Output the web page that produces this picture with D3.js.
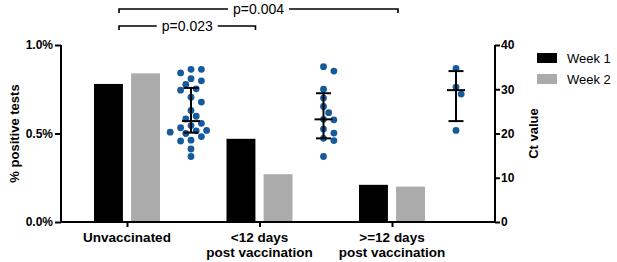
<!DOCTYPE html>
<html>
<head>
<meta charset="utf-8">
<script src="https://cdn.jsdelivr.net/npm/d3@7"></script>
<style>
  body { margin: 0; background: #fff; }
  svg { display: block; font-family: "Liberation Sans", Arial, sans-serif; }
</style>
</head>
<body>
<svg id="chart"></svg>
<script>
// categories and labels
let categories = ["Unvaccinated", "<12 days", ">=12 days"];
let catLines = [["Unvaccinated"], ["<12 days", "post vaccination"], [">=12 days", "post vaccination"]];
let weeks = ["Week 1", "Week 2"];

// % positive tests per week
let week1 = [0.78, 0.47, 0.21];
let week2 = [0.84, 0.27, 0.20];

// Ct values of positive tests
let ctUnvacc = [34.5, 33.7, 34.5, 31.9, 32.4, 31.1, 30.1, 29.8, 28.2, 27.1, 25.2, 23.9, 23.3,
                22.3, 21.3, 21.8, 20.6, 20.0, 20.7, 20.3, 18.5, 18.3, 19.3, 16.5, 14.8];
let ctEarly = [35.1, 34.1, 30.0, 28.0, 26.1, 24.7, 23.2, 23.1, 21.0, 20.1, 18.9, 18.4, 14.8];
let ctLate = [34.7, 30.5, 28.9, 20.7];
let ctMedian = [22.8, 23.2, 29.8];
let ctQ1 = [20.2, 18.9, 22.8];
let ctQ3 = [30.3, 29.1, 34.1];

// p values
let pairs = [["Unvaccinated", ">=12 days"], ["Unvaccinated", "<12 days"]];
let pLabels = ["p=0.004", "p=0.023"];

let margin = {top: 45, right: 122, bottom: 40, left: 61},
    width = 617 - margin.left - margin.right,
    height = 262 - margin.top - margin.bottom;

let svg = d3.select("#chart")
    .attr("width", 617)
    .attr("height", 262)
    .append("g")
    .attr("transform", "translate(" + margin.left + "," + margin.top + ")");

// scales
let x = d3.scalePoint().domain(categories).range([66, 331]);
let xSub = d3.scaleBand().domain(weeks).range([-33, 33]).paddingInner(0.22);
let y = d3.scaleLinear().domain([0, 1.0]).range([height, 0]);
let yCt = d3.scaleLinear().domain([0, 40]).range([height, 0]);
let color = d3.scaleOrdinal().domain(weeks).range(["#000000", "#ababab"]);
let dotOffset = 64;
let dotColor = "#175a9c";

// bars
let barData = [];
categories.forEach((c, i) => {
    barData.push({cat: c, week: "Week 1", value: week1[i]});
    barData.push({cat: c, week: "Week 2", value: week2[i]});
});
svg.selectAll(".bar")
    .data(barData)
    .enter().append("rect")
    .attr("class", "bar")
    .attr("x", d => x(d.cat) + xSub(d.week))
    .attr("width", xSub.bandwidth())
    .attr("y", d => y(d.value))
    .attr("height", d => height - y(d.value))
    .attr("fill", d => color(d.week));

// simple beeswarm for the dots
function swarm(values, r, step) {
    let placed = [];
    let sorted = values.slice().sort((a, b) => b - a);
    sorted.forEach(v => {
        let py = yCt(v);
        let offs = [0];
        for (let k = 1; k < 8; k++) { offs.push(k * step, -k * step); }
        for (let o of offs) {
            let ok = placed.every(p => Math.hypot(p.dx - o, p.py - py) >= 2 * r + 0.4);
            if (ok) { placed.push({dx: o, py: py, v: v}); break; }
        }
    });
    return placed;
}

let ctGroups = [ctUnvacc, ctEarly, ctLate];
ctGroups.forEach((vals, i) => {
    let cx = x(categories[i]) + dotOffset;
    let pts = swarm(vals, 3.4, 5.2);
    svg.selectAll(".dot" + i)
        .data(pts)
        .enter().append("circle")
        .attr("cx", d => cx + d.dx)
        .attr("cy", d => d.py)
        .attr("r", 3.4)
        .attr("fill", dotColor);

    // median + IQR
    let g = svg.append("g").attr("stroke", "#000").attr("stroke-width", 2);
    g.append("line").attr("x1", cx).attr("x2", cx)
        .attr("y1", yCt(ctQ3[i])).attr("y2", yCt(ctQ1[i]));
    [ctQ3[i], ctQ1[i]].forEach(v => {
        g.append("line").attr("x1", cx - 7.5).attr("x2", cx + 7.5)
            .attr("y1", yCt(v)).attr("y2", yCt(v));
    });
    g.append("line").attr("x1", cx - 9).attr("x2", cx + 9)
        .attr("y1", yCt(ctMedian[i])).attr("y2", yCt(ctMedian[i]));
});

// left axis
let yAxis = svg.append("g")
    .call(d3.axisLeft(y).tickValues([0, 0.5, 1.0]).tickSize(6).tickPadding(2)
        .tickFormat(d => d.toFixed(1) + "%"));
// right axis
let yAxisR = svg.append("g")
    .attr("transform", "translate(" + width + ",0)")
    .call(d3.axisRight(yCt).tickValues([0, 10, 20, 30, 40]).tickSize(5).tickPadding(1));
// bottom axis
let xAxis = svg.append("g")
    .attr("transform", "translate(0," + height + ")")
    .call(d3.axisBottom(x).tickSize(5).tickFormat(""));
xAxis.select(".domain").remove();
svg.append("line")
    .attr("x1", 0).attr("x2", width)
    .attr("y1", height).attr("y2", height)
    .attr("stroke", "#000").attr("stroke-width", 2);

[yAxis, yAxisR, xAxis].forEach(a => {
    a.selectAll("path, line").attr("stroke", "#000").attr("stroke-width", 2);
    a.selectAll("text")
        .style("font-family", "Liberation Sans, Arial, sans-serif")
        .style("font-weight", "bold")
        .style("font-size", "12px")
        .attr("fill", "#000");
});
yAxis.select(".domain").attr("d", "M0," + height + "V0");
yAxisR.select(".domain").attr("d", "M0," + height + "V0");

// category labels
categories.forEach((c, i) => {
    let t = svg.append("text")
        .attr("x", x(c))
        .attr("y", height + 20)
        .style("text-anchor", "middle")
        .style("font-weight", "bold")
        .style("font-size", "13.5px");
    catLines[i].forEach((line, j) => {
        t.append("tspan").attr("x", x(c)).attr("dy", j === 0 ? 0 : 15).text(line);
    });
});

// axis titles
svg.append("text")
    .attr("transform", "translate(" + (-42) + "," + (height / 2) + ") rotate(-90)")
    .style("text-anchor", "middle")
    .style("font-weight", "bold")
    .style("font-size", "13px")
    .text("% positive tests");

svg.append("text")
    .attr("transform", "translate(" + (width + 43) + "," + (height / 2) + ") rotate(-90)")
    .style("text-anchor", "middle")
    .style("font-weight", "bold")
    .style("font-size", "13px")
    .text("Ct value");

// legend
let legend = svg.append("g").attr("transform", "translate(" + (width + 42) + ",8)");
weeks.forEach((w, i) => {
    legend.append("rect")
        .attr("x", 0).attr("y", i * 21)
        .attr("width", 20).attr("height", 10)
        .attr("fill", color(w));
    legend.append("text")
        .attr("x", 30).attr("y", i * 21 + 9.5)
        .style("font-size", "13px")
        .text(w);
});

// significance brackets
let bracketY = [-36, -19];
let endOffset = {"Unvaccinated": -8, "<12 days": -4, ">=12 days": 6};
pairs.forEach((p, i) => {
    let x1 = x(p[0]) + endOffset[p[0]],
        x2 = x(p[1]) + endOffset[p[1]],
        by = bracketY[i],
        mid = (x1 + x2) / 2;
    let label = svg.append("text")
        .attr("x", mid).attr("y", by + 4.5)
        .style("text-anchor", "middle")
        .style("font-size", "14px")
        .text(pLabels[i]);
    let half = label.node().getComputedTextLength() / 2 + 5;
    let g = svg.append("g").attr("stroke", "#000").attr("stroke-width", 1.6).attr("fill", "none");
    g.append("path").attr("d", "M" + x1 + "," + (by + 4) + "V" + by + "H" + (mid - half));
    g.append("path").attr("d", "M" + (mid + half) + "," + by + "H" + x2 + "V" + (by + 4));
});
</script>
</body>
</html>
